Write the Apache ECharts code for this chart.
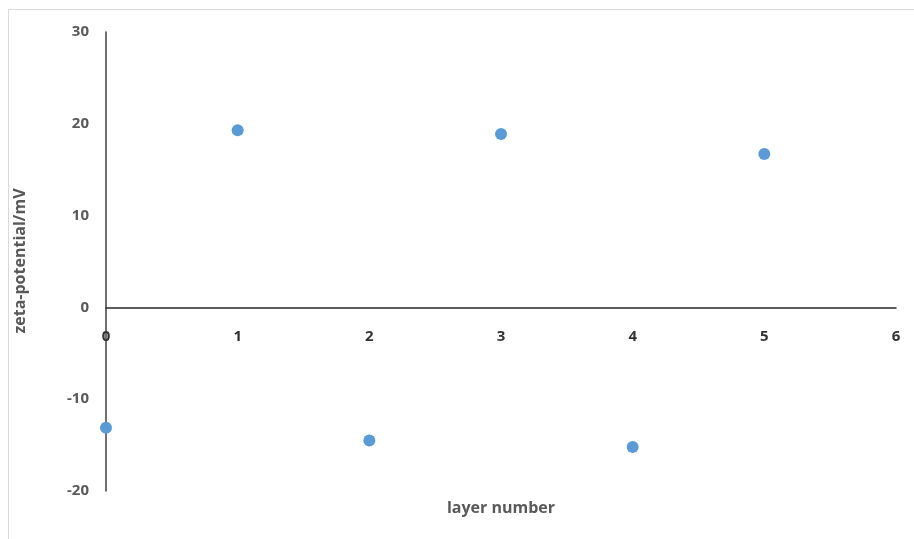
<!DOCTYPE html>
<html><head><meta charset="utf-8">
<script src="https://cdn.jsdelivr.net/npm/echarts@6/dist/echarts.min.js"></script>
<style>html,body{margin:0;padding:0;background:#fff}#c{width:914px;height:539px}</style>
</head><body><div id="c"></div>
<script>
const layerNumbers = [0, 1, 2, 3, 4, 5];
const zetaPotential = [-13.1, 19.3, -14.5, 18.9, -15.2, 16.7];
const xTicks = {min: 0, max: 6, interval: 1};
const yTicks = {min: -20, max: 30, interval: 10};

const chart = echarts.init(document.getElementById('c'));
const font = '"Open Sans", "Liberation Sans", sans-serif';
chart.setOption({
  animation: false,
  grid: {left: 106, top: 32, right: 18, bottom: 48, containLabel: false, outerBoundsMode: 'none'},
  graphic: [
    {type: 'rect', shape: {x: 8.5, y: 9.5, width: 1000, height: 1000}, style: {fill: 'none', stroke: '#d9d9d9', lineWidth: 1}, z: -10},
    {type: 'text', x: 501, y: 508, style: {text: 'layer number', font: 'bold 16px ' + font, fill: '#595959', align: 'center', verticalAlign: 'middle'}},
    {type: 'text', x: 20, y: 261, rotation: Math.PI / 2, style: {text: 'zeta-potential/mV', font: 'bold 16px ' + font, fill: '#595959', align: 'center', verticalAlign: 'middle'}}
  ],
  xAxis: {
    type: 'value', min: xTicks.min, max: xTicks.max, interval: xTicks.interval,
    axisLine: {onZero: true, lineStyle: {color: '#262626', width: 1.5}},
    axisTick: {show: false},
    splitLine: {show: false},
    axisLabel: {margin: -162, color: '#333333', fontWeight: 'bold', fontSize: 15, fontFamily: font}
  },
  yAxis: {
    type: 'value', min: yTicks.min, max: yTicks.max, interval: yTicks.interval,
    axisLine: {onZero: false, lineStyle: {color: '#404040', width: 1.5}},
    axisTick: {show: false},
    splitLine: {show: false},
    axisLabel: {margin: 17, color: '#595959', fontWeight: 'bold', fontSize: 15, fontFamily: font}
  },
  series: [{
    type: 'scatter',
    data: layerNumbers.map((x, i) => [x, zetaPotential[i]]),
    symbolSize: 12,
    itemStyle: {color: '#5B9BD5', opacity: 1}
  }]
});
</script></body></html>
